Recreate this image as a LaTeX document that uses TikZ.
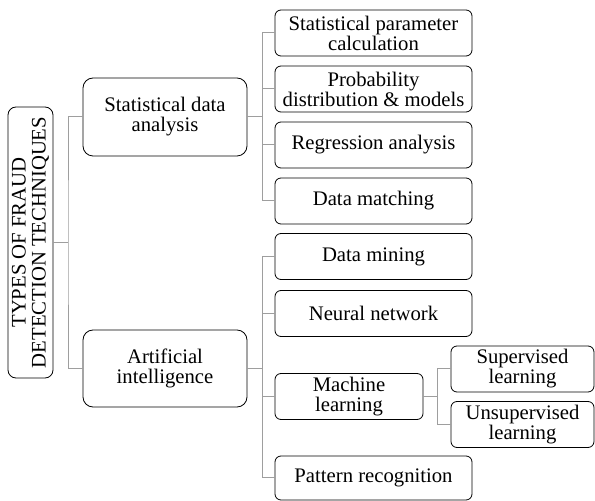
\documentclass[tikz,border=0pt]{standalone}
\usepackage{fontspec}
\setmainfont{Liberation Serif}
\tikzset{
  box/.style={draw,line width=0.8pt,rounded corners=6pt,align=center,inner sep=0pt,
    font=\fontsize{20.7}{20}\selectfont},
  conn/.style={draw=black!38,line width=1pt}
}
\begin{document}
\begin{tikzpicture}[x=1pt,y=1pt]
  \useasboundingbox (0,0) rectangle (595,501);
  % root and first level
  \node[box,rounded corners=8pt,minimum width=271pt,minimum height=45pt,rotate=90] (root) at (30.5,258.5) {TYPES OF FRAUD\\DETECTION TECHNIQUES};
  \node[box,rounded corners=10pt,minimum width=164pt,minimum height=78pt] (sda) at (165,384) {Statistical data\\analysis};
  \node[box,rounded corners=10pt,minimum width=164pt,minimum height=77pt] (ai) at (165,132.5) {Artificial\\intelligence};
  % second level
  \node[box,minimum width=197pt,minimum height=46pt] (spc) at (373.5,468) {Statistical parameter\\calculation};
  \node[box,minimum width=197pt,minimum height=46pt] (pdm) at (373.5,412) {Probability\\distribution \& models};
  \node[box,minimum width=197pt,minimum height=46pt] (reg) at (373.5,356) {Regression analysis};
  \node[box,minimum width=197pt,minimum height=46pt] (dmt) at (373.5,300) {Data matching};
  \node[box,minimum width=197pt,minimum height=46pt] (dmi) at (373.5,244.5) {Data mining};
  \node[box,minimum width=197pt,minimum height=46pt] (nn) at (373.5,187.5) {Neural network};
  \node[box,minimum width=148pt,minimum height=46pt] (ml) at (349,104.5) {Machine\\learning};
  \node[box,minimum width=197pt,minimum height=44pt] (pr) at (373.5,23) {Pattern recognition};
  % third level
  \node[box,minimum width=143pt,minimum height=46pt] (sup) at (522.5,132) {Supervised\\learning};
  \node[box,minimum width=143pt,minimum height=46pt] (uns) at (522.5,76.5) {Unsupervised\\learning};
  % junctions
  \path (68,258.5) coordinate (j0) (262,384) coordinate (j1) (262,132.5) coordinate (j2) (437,104.5) coordinate (j3);
  \draw[conn] (root.south) -- (j0);
  \draw[conn] (sda.west) -| (j0) |- (ai.west);
  \draw[conn] (sda.east) -- (j1);
  \foreach \b in {spc,pdm,reg,dmt} \draw[conn] (j1) |- (\b.west);
  \draw[conn] (ai.east) -- (j2);
  \foreach \b in {dmi,nn,ml,pr} \draw[conn] (j2) |- (\b.west);
  \draw[conn] (ml.east) -- (j3);
  \foreach \b in {sup,uns} \draw[conn] (j3) |- (\b.west);
\end{tikzpicture}
\end{document}
